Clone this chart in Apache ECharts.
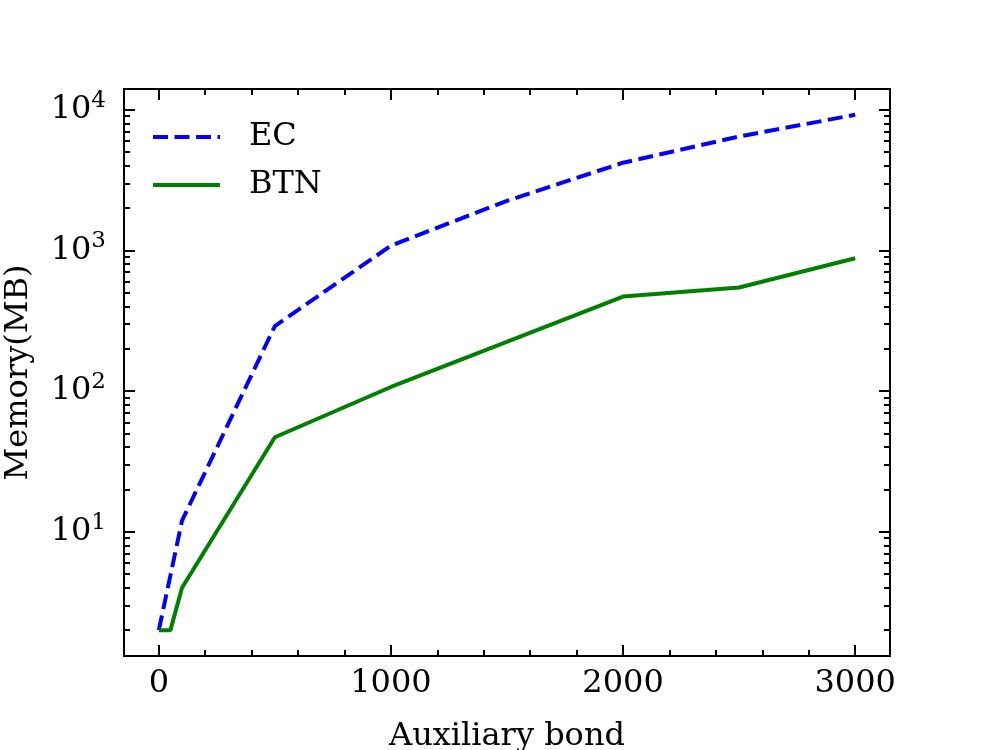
<!DOCTYPE html>
<html>
<head>
<meta charset="utf-8">
<script src="https://cdn.jsdelivr.net/npm/echarts@6/dist/echarts.min.js"></script>
<style>
  html, body { margin: 0; padding: 0; background: #fff; }
  #chart { width: 990px; height: 750px; }
</style>
</head>
<body>
<div id="chart"></div>
<script>
// values
const ecBond = [0, 100, 500, 1000, 1500, 2000, 2500, 3000]
const ecMemory = [2, 12, 290, 1080, 2250, 4200, 6450, 9200]
const btnBond = [0, 50, 100, 500, 1000, 2000, 2500, 3000]
const btnMemory = [2, 2, 4, 47, 107, 470, 545, 880]

const xMajor = [0, 1000, 2000, 3000]
const xMinor = [200, 400, 600, 800, 1200, 1400, 1600, 1800, 2200, 2400, 2600, 2800, 3000]
const yMajor = [10, 100, 1000, 10000]
const yMinor = [2, 3, 4, 5, 6, 7, 8, 9, 20, 30, 40, 50, 60, 70, 80, 90,
  200, 300, 400, 500, 600, 700, 800, 900, 2000, 3000, 4000, 5000, 6000, 7000, 8000, 9000]

const FONT = 'DejaVu Serif'
const AXIS_COLOR = '#000'

function pairs(xs, ys) {
  let out = []
  for (let i = 0; i < xs.length; i++) out.push([xs[i], ys[i]])
  return out
}

function xAxisDef(pos, ticks, len, withLabel) {
  return {
    type: 'value', position: pos, min: -150, max: 3150,
    axisLine: { show: true, onZero: false, lineStyle: { color: AXIS_COLOR, width: 2 } },
    axisTick: { show: true, inside: true, length: len, customValues: ticks, lineStyle: { color: AXIS_COLOR, width: 2 } },
    axisLabel: withLabel ? {
      show: true, customValues: xMajor, margin: 12, color: '#000',
      fontFamily: FONT, fontSize: 32,
      formatter: v => String(v)
    } : { show: false },
    splitLine: { show: false },
    name: withLabel ? 'Auxiliary bond' : '',
    nameLocation: 'middle', nameGap: 65,
    nameTextStyle: { fontFamily: FONT, fontSize: 32, color: '#000' }
  }
}

function yAxisDef(pos, ticks, len, withLabel) {
  return {
    type: 'log', position: pos, min: 1.31, max: 14030, logBase: 10,
    axisLine: { show: true, onZero: false, lineStyle: { color: AXIS_COLOR, width: 2 } },
    axisTick: { show: true, inside: true, length: len, customValues: ticks, lineStyle: { color: AXIS_COLOR, width: 2 } },
    axisLabel: withLabel ? {
      show: true, customValues: yMajor, margin: 18, color: '#000',
      fontFamily: FONT, fontSize: 32,
      formatter: v => '10{sup|' + Math.round(Math.log10(v)) + '}',
      rich: { sup: { fontFamily: FONT, fontSize: 23, padding: [0, 0, 18, 0], color: '#000' } }
    } : { show: false },
    splitLine: { show: false },
    name: withLabel ? 'Memory(MB)' : '',
    nameLocation: 'middle', nameGap: 89,
    nameTextStyle: { fontFamily: FONT, fontSize: 32, color: '#000' }
  }
}

const chart = echarts.init(document.getElementById('chart'))
chart.setOption({
  animation: false,
  backgroundColor: '#fff',
  grid: { left: 124, right: 100, top: 89, bottom: 94, containLabel: false, outerBoundsMode: 'none' },
  legend: {
    left: 146, top: 116, orient: 'vertical',
    itemWidth: 67, itemHeight: 16, itemGap: 16,
    itemStyle: { opacity: 0, borderWidth: 0 },
    lineStyle: { width: 4 },
    textStyle: { fontFamily: FONT, fontSize: 32, color: '#000', padding: [0, 0, 0, 24] },
    data: ['EC', 'BTN']
  },
  xAxis: [
    xAxisDef('bottom', xMajor, 11, true),
    xAxisDef('bottom', xMinor, 6, false),
    xAxisDef('top', xMajor, 11, false),
    xAxisDef('top', xMinor, 6, false)
  ],
  yAxis: [
    yAxisDef('left', yMajor, 11, true),
    yAxisDef('left', yMinor, 6, false),
    yAxisDef('right', yMajor, 11, false),
    yAxisDef('right', yMinor, 6, false)
  ],
  series: [
    {
      name: 'EC', type: 'line', data: pairs(ecBond, ecMemory),
      showSymbol: false, symbol: 'none', color: '#0000ff',
      lineStyle: { color: '#0000ff', width: 4, type: [15, 6.5] }
    },
    {
      name: 'BTN', type: 'line', data: pairs(btnBond, btnMemory),
      showSymbol: false, symbol: 'none', color: '#008000',
      lineStyle: { color: '#008000', width: 4 }
    }
  ]
})
</script>
</body>
</html>
